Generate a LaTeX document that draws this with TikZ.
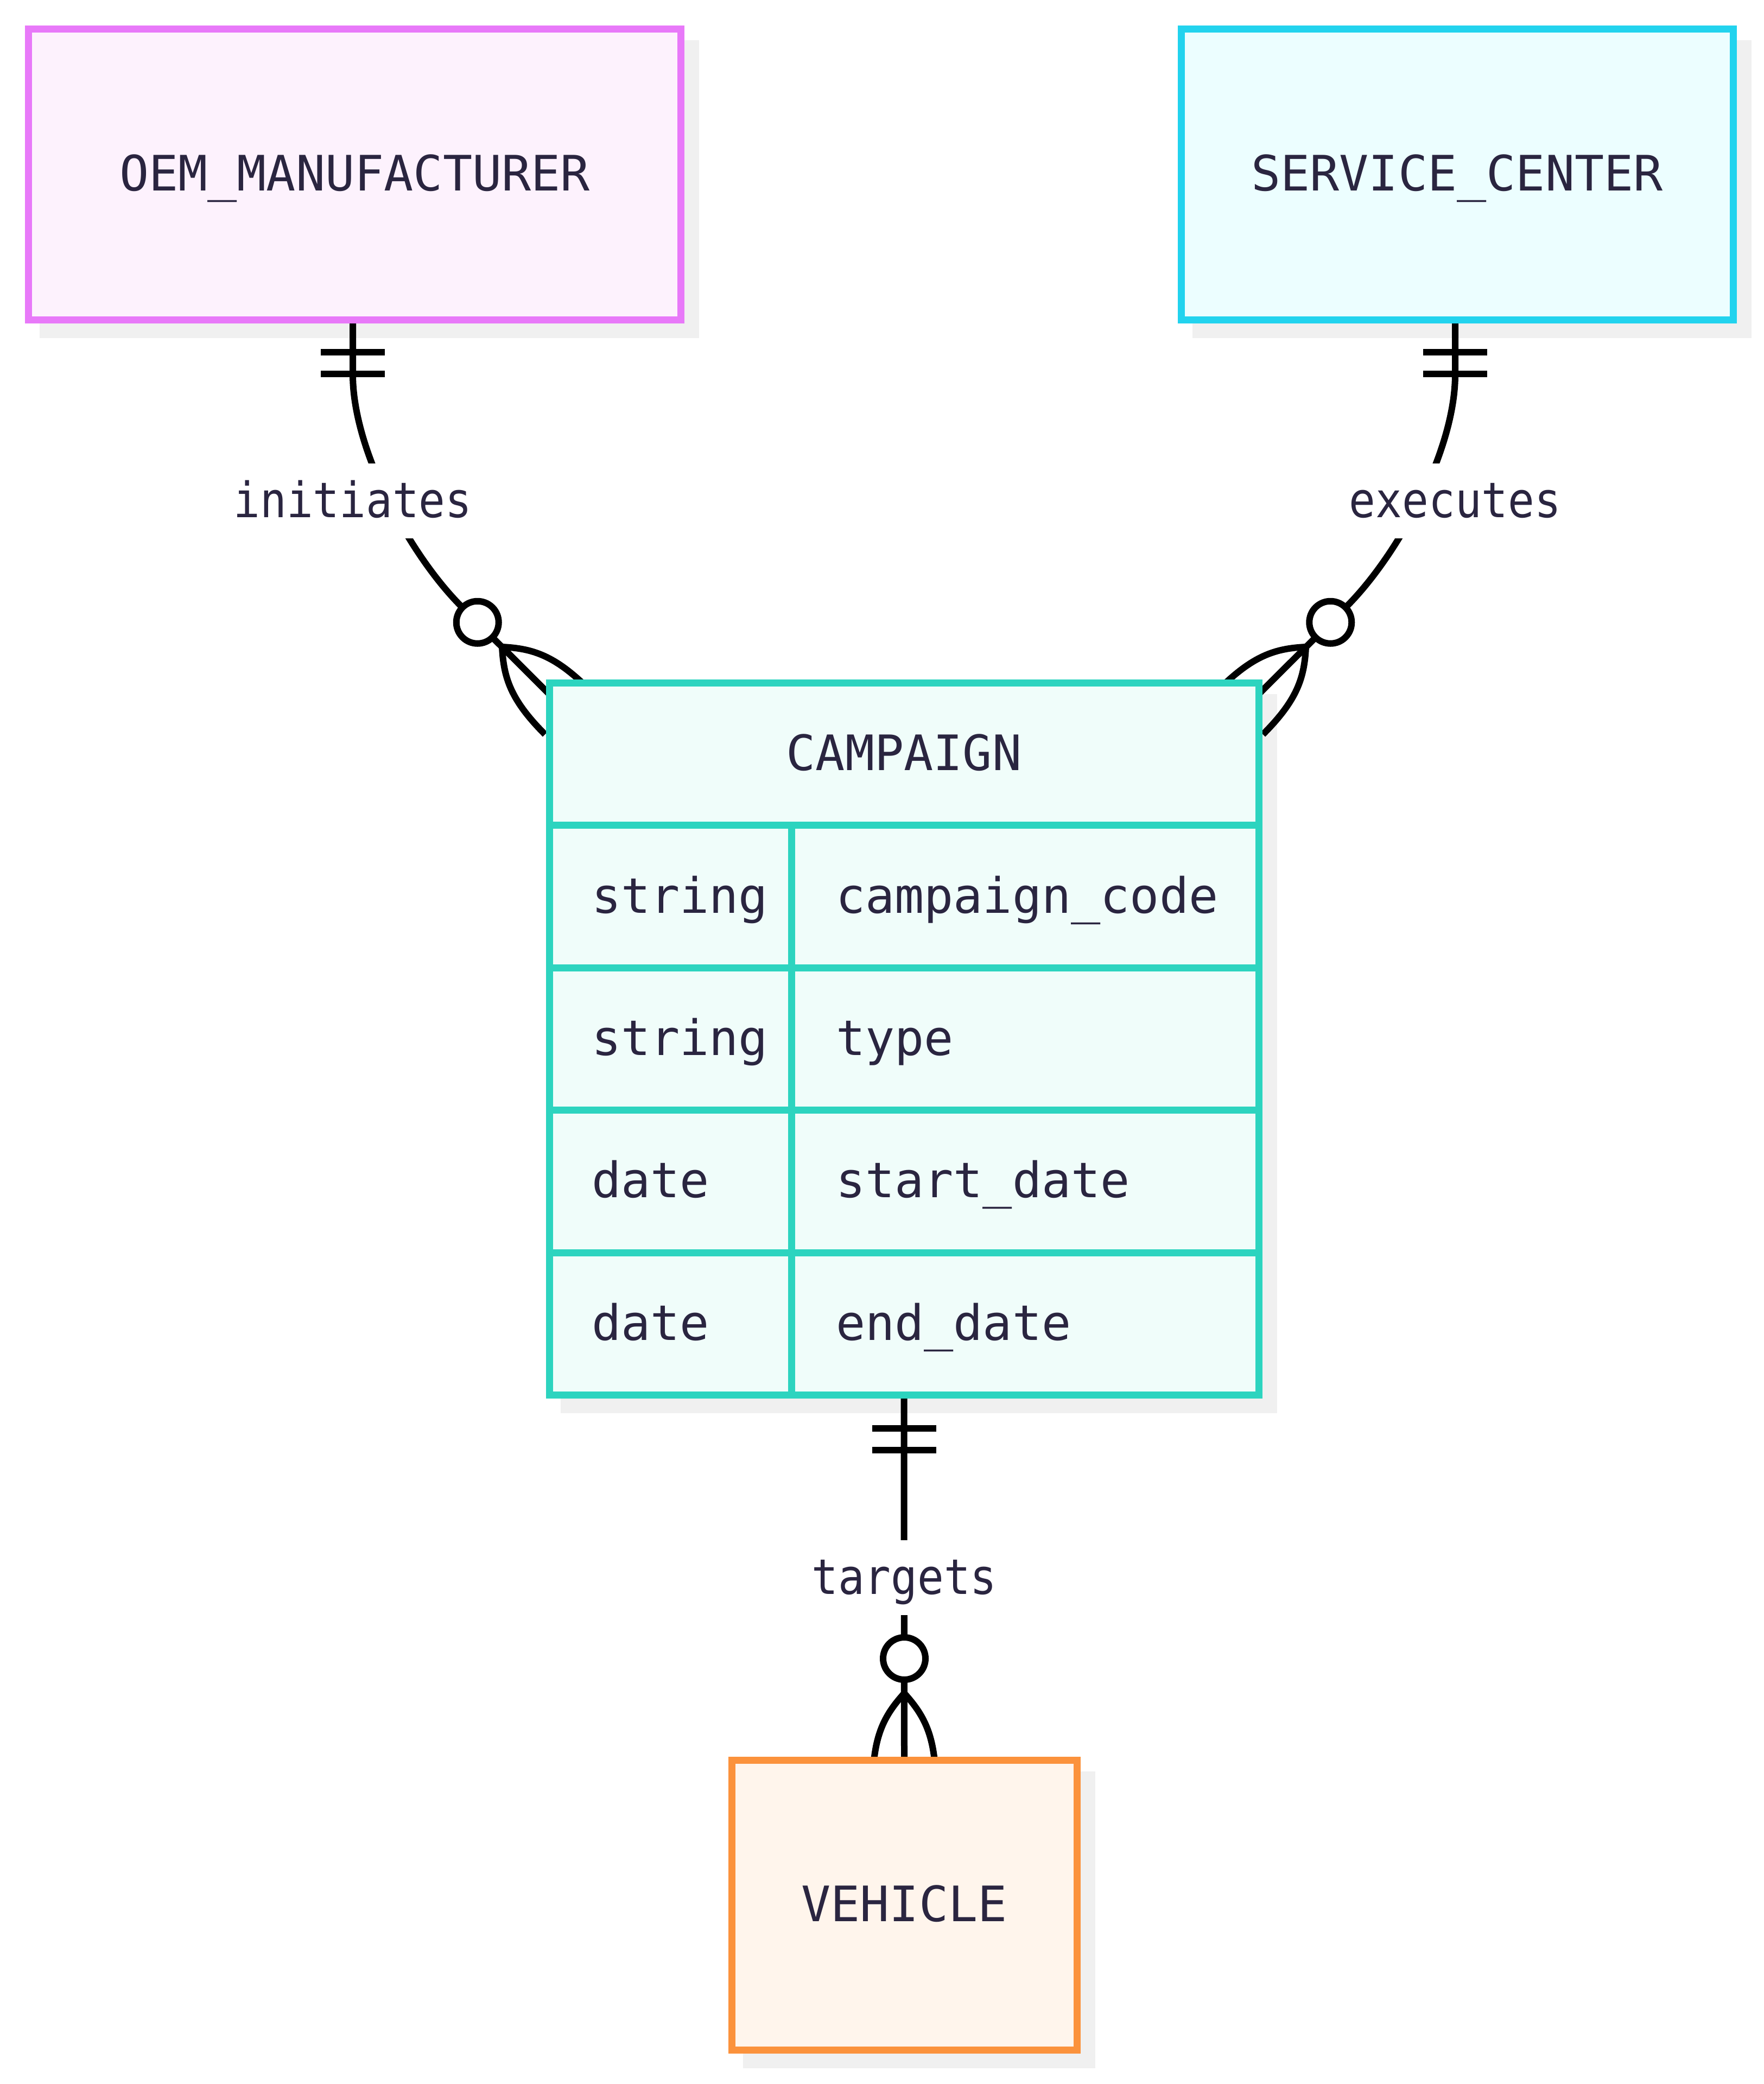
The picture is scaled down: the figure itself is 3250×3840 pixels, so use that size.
\documentclass[tikz,border=0pt]{standalone}
\usepackage{fontspec}
\setmonofont{DejaVu Sans Mono}
\newfontfamily\lblfont[FakeStretch=0.9]{DejaVu Sans Mono}
\usetikzlibrary{calc}
\definecolor{txt}{HTML}{2A2540}
\definecolor{oemline}{HTML}{E879F9}
\definecolor{oemfill}{HTML}{FDF2FD}
\definecolor{svcline}{HTML}{22D3EE}
\definecolor{svcfill}{HTML}{ECFEFF}
\definecolor{campline}{HTML}{2DD4BF}
\definecolor{campfill}{HTML}{F0FDFA}
\definecolor{vehline}{HTML}{FB923C}
\definecolor{vehfill}{HTML}{FFF5EC}
\definecolor{shadowgray}{HTML}{F0F0F0}
\pgfdeclarelayer{bg}
\pgfdeclarelayer{edges}
\pgfsetlayers{bg,edges,main}
\tikzset{
  conn/.style={draw=black, line width=2.4pt},
  crowfoot/.pic={
    \draw[conn] (0,0) .. controls (38,42) and (58,80) .. (58,170);
    \draw[conn] (0,0) .. controls (-38,42) and (-58,80) .. (-58,170);
    \draw[conn, fill=white] (0,-64) circle[radius=7.8pt];
  }
}
\begin{document}
\begin{tikzpicture}[x=0.2pt,y=-0.2pt,
  every node/.style={font=\ttfamily\fontsize{18pt}{20pt}\selectfont, text=txt},
  ent/.style={draw, line width=2.6pt, inner sep=0pt, outer sep=0pt, text height=14pt, text depth=2pt},
  lbl/.style={fill=white, font=\lblfont\fontsize{18pt}{20pt}\selectfont, inner xsep=4pt, inner ysep=0pt, minimum height=27.6pt, text height=14pt, text depth=2pt},
  cell/.style={anchor=base west, inner sep=0pt},
  grid/.style={draw=campline, line width=2.6pt}]
\useasboundingbox (0,0) rectangle (3250,3840);

% entities
\node[ent, draw=oemline, fill=oemfill, minimum width=240.2pt, minimum height=107.2pt] (oem) at (653.5,321) {OEM\_MANUFACTURER};
\node[ent, draw=svcline, fill=svcfill, minimum width=203.4pt, minimum height=107.2pt] (svc) at (2684.5,321) {SERVICE\_CENTER};
\node[ent, draw=campline, fill=campfill, minimum width=261.4pt, minimum height=262.4pt] (campaign) at (1665.5,1914) {};
\node[ent, draw=vehline, fill=vehfill, minimum width=127.2pt, minimum height=106.8pt] (vehicle) at (1666,3510) {VEHICLE};

% table inner lines
\draw[grid] (1012,1520) -- (2319,1520);
\draw[grid] (1012,1783) -- (2319,1783);
\draw[grid] (1012,2045) -- (2319,2045);
\draw[grid] (1012,2308) -- (2319,2308);
\draw[grid] (1458,1520) -- (1458,2570);
\node[anchor=base, inner sep=0pt] (hdr) at (1665.5,1419) {CAMPAIGN};
\node[cell] (t1) at (1089,1682) {string};
\node[cell] (n1) at (1539,1682) {campaign\_code};
\node[cell] (t2) at (1089,1944) {string};
\node[cell] (n2) at (1539,1944) {type};
\node[cell] (t3) at (1089,2206.5) {date};
\node[cell] (n3) at (1539,2206.5) {start\_date};
\node[cell] (t4) at (1089,2469) {date};
\node[cell] (n4) at (1539,2469) {end\_date};

% labels
\node[lbl] (l1) at (650,923) {initiates};
\node[lbl] (l2) at (2681,923) {executes};
\node[lbl] (l3) at (1666,2907) {targets};

% shadows
\begin{pgfonlayer}{bg}
\foreach \n in {oem,svc,campaign,vehicle}
  \fill[shadowgray] ($(\n.north west)+(20.5,20.5)$) rectangle ($(\n.south east)+(33.5,33.5)$);
\end{pgfonlayer}

% connectors
\begin{pgfonlayer}{edges}
% initiates
\draw[conn] ($(oem.south)+(-3.5,0)$) -- (650,690) .. controls (650,830) and (755,1022.4) .. (850,1117.4) -- ($(campaign.north west)+(33,54)$);
\draw[conn] ($(oem.south)+(-62.5,60)$) -- ++(118,0);
\draw[conn] ($(oem.south)+(-62.5,100)$) -- ++(118,0);
\pic[rotate=45] at (925,1192) {crowfoot};
% executes
\draw[conn] ($(svc.south)+(-3.5,0)$) -- (2681,690) .. controls (2681,830) and (2576,1022.4) .. (2481,1117.4) -- ($(campaign.north east)+(-33,54)$);
\draw[conn] ($(svc.south)+(-62.5,60)$) -- ++(118,0);
\draw[conn] ($(svc.south)+(-62.5,100)$) -- ++(118,0);
\pic[rotate=-45] at (2406,1192) {crowfoot};
% targets
\draw[conn] (campaign.south) -- (vehicle.north);
\draw[conn] ($(campaign.south)+(-58.5,62)$) -- ++(118,0);
\draw[conn] ($(campaign.south)+(-58.5,102)$) -- ++(118,0);
\pic at ($(vehicle.north)+(0,-123)$) {crowfoot};
\end{pgfonlayer}
\end{tikzpicture}
\end{document}
